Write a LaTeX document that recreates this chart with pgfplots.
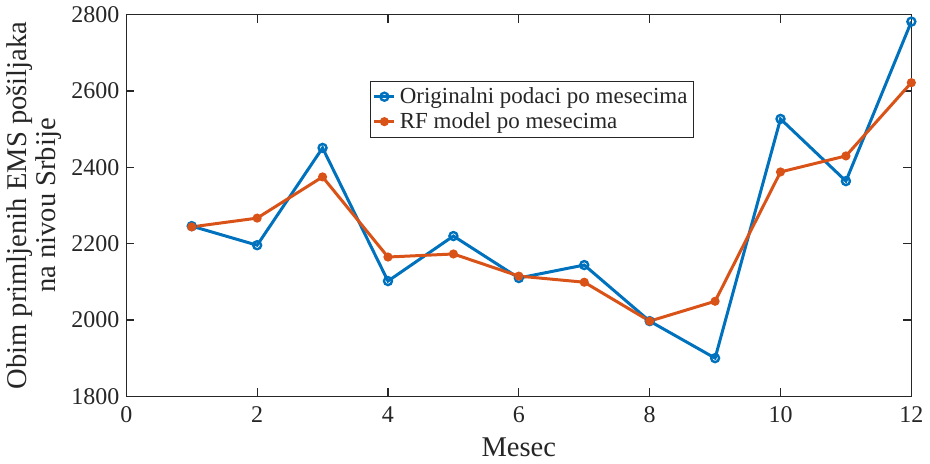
\documentclass[border=0pt]{standalone}
\usepackage{pgfplots}
\pgfplotsset{compat=1.18}
\usepackage{fontspec}
\setmainfont{Liberation Serif}
\definecolor{mblue}{rgb}{0,0.447,0.741}
\definecolor{morange}{rgb}{0.85,0.325,0.098}
\definecolor{maxis}{rgb}{0.15,0.15,0.15}
\begin{document}
\begin{tikzpicture}
\begin{axis}[
scale only axis,
width=393pt, height=191pt,
xmin=0, xmax=12, ymin=1800, ymax=2800,
xtick={0,2,...,12},
ytick={1800,2000,...,2800},
tick align=inside,
major tick length=4pt,
axis line style={maxis, line width=0.6pt},
tick style={maxis, line width=0.6pt},
xticklabel style={font=\fontsize{12}{13}\selectfont, text=maxis, yshift=-1.5pt},
yticklabel style={font=\fontsize{12}{13}\selectfont, text=maxis},
/pgf/number format/assume math mode=true,
/pgf/number format/1000 sep={},
xlabel={Mesec},
ylabel={Obim primljenih EMS pošiljaka\\na nivou Srbije},
ylabel style={align=center, font=\fontsize{14.3}{14.5}\selectfont, text=maxis, yshift=-2pt},
xlabel style={font=\fontsize{14.3}{15}\selectfont, text=maxis, yshift=-1pt},
legend style={at={(0.311,0.827)}, anchor=north west, draw=maxis,
  font=\fontsize{11.5}{12.5}\selectfont, text=maxis, inner sep=1pt,
  row sep=-1pt, line width=0.5pt},
legend cell align=left,
legend image post style={line width=1.5pt},
legend image code/.code={\draw[#1] (0cm,0cm) -- (0.35cm,0cm); \draw[#1, mark repeat=1] plot coordinates {(0.175cm,0cm)};},
]
\addplot[mblue, line width=1.5pt, mark=o, mark size=2pt, mark options={line width=1.2pt}]
coordinates {(1,2246) (2,2196) (3,2451) (4,2102) (5,2220) (6,2110) (7,2144) (8,1997) (9,1900) (10,2527) (11,2364) (12,2782)};
\addlegendentry{Originalni podaci po mesecima}
\addplot[morange, line width=1.5pt, mark=*, mark size=1.5pt]
coordinates {(1,2244) (2,2267) (3,2375) (4,2165) (5,2173) (6,2115) (7,2099) (8,1997) (9,2049) (10,2388) (11,2430) (12,2622)};
\addlegendentry{RF model po mesecima}
\end{axis}
\end{tikzpicture}
\end{document}
